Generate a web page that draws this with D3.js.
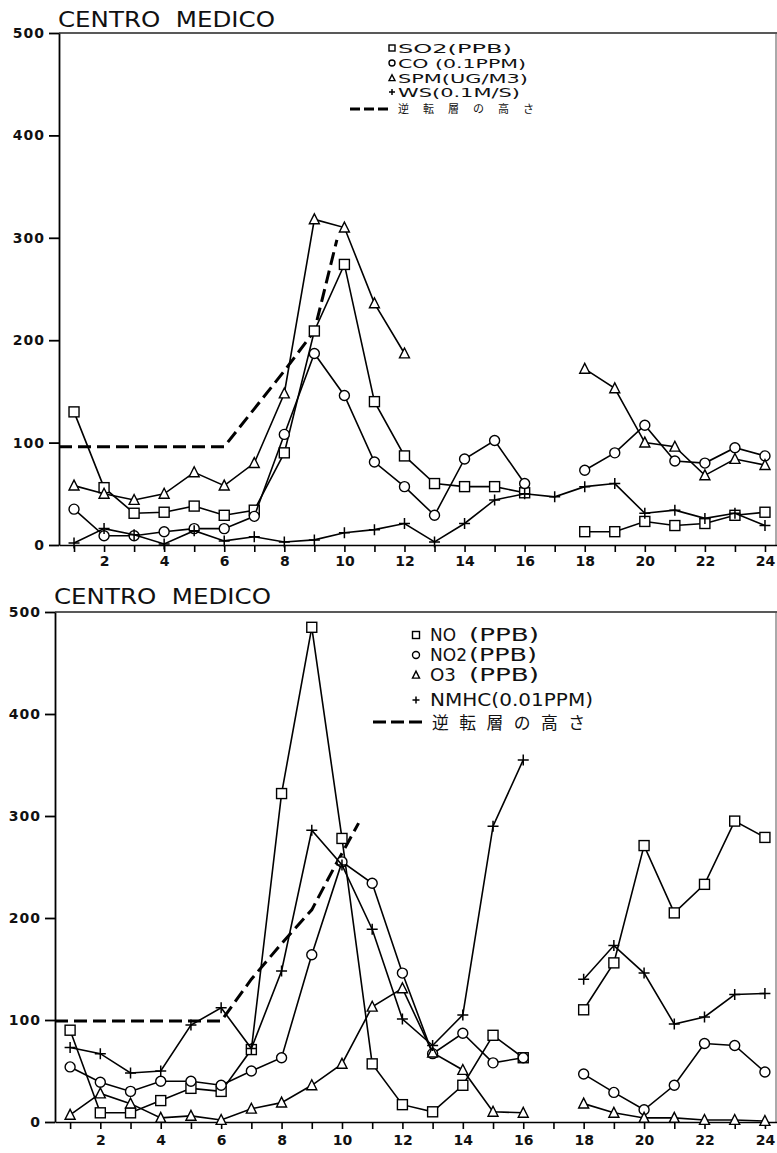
<!DOCTYPE html>
<html>

<head>
    <meta http-equiv="Content-Type" content="text/html;" charset="utf-8">
    <script type="text/javascript" src="https://cdn.jsdelivr.net/npm/d3@7/dist/d3.min.js"></script>
    <style>
        body { margin: 0; background: #fff; }
        .axis text { font-family: "DejaVu Sans", sans-serif; fill: #111; }
    </style>
</head>

<body>
    <div class="chart-div"></div>
    <script type="text/javascript">

        var width = 777;
        var height = 1153;

        //--------------------------------------------DATA

        var hours = [1, 2, 3, 4, 5, 6, 7, 8, 9, 10, 11, 12, 13, 14, 15, 16, 17, 18, 19, 20, 21, 22, 23, 24];
        var yTicks = [0, 100, 200, 300, 400, 500];
        var xLabels = [2, 4, 6, 8, 10, 12, 14, 16, 18, 20, 22, 24];
        var title = "CENTRO  MEDICO";

        // top panel
        var so2 = [130, 56, 31, 32, 38, 29, 34, 90, 209, 274, 140, 87, 60, 57, 57, 51, null, 13, 13, 23, 19, 21, 29, 32];
        var co = [35, 9, 9, 13, 16, 16, 28, 108, 187, 146, 81, 57, 29, 84, 102, 60, null, 73, 90, 117, 82, 80, 95, 87];
        var spm = [58, 50, 44, 50, 71, 58, 80, 148, 318, 310, 236, 187, null, null, null, null, null, 172, 153, 100, 96, 68, 84, 78];
        var ws = [2, 16, 10, 1, 14, 4, 8, 3, 5, 12, 15, 21, 3, 21, 44, 50, 47, 57, 60, 31, 34, 26, 31, 19];
        var invHoursTop = [0.5, 6, 7, 8, 9, 9.75];
        var invTop = [96, 96, 133, 170, 209, 298];

        // bottom panel
        var no = [90, 9, 9, 21, 33, 30, 71, 322, 485, 278, 57, 17, 10, 36, 85, 63, null, 110, 156, 271, 205, 233, 295, 279];
        var no2 = [54, 39, 30, 40, 40, 36, 50, 63, 164, 255, 234, 146, 67, 87, 58, 63, null, 47, 29, 12, 36, 77, 75, 49];
        var o3 = [7, 28, 18, 4, 6, 2, 13, 19, 36, 57, 113, 131, 68, 51, 10, 9, null, 18, 9, 4, 4, 2, 2, 1];
        var nmhc = [73, 67, 48, 50, 95, 112, 72, 148, 286, 252, 189, 101, 75, 105, 290, 355, null, 140, 173, 146, 96, 103, 125, 126];
        var invHoursBottom = [0.5, 6, 7, 8, 9, 9.75, 10.55];
        var invBottom = [99, 99, 140, 175, 208, 250, 293];

        var legendJa = "逆転層の高さ";

        //--------------------------------------------CONTAINERS

        var svg = d3.select("div.chart-div")
            .append("svg")
            .attr("width", width)
            .attr("height", height)
            .style("background", "#fff");

        //--------------------------------------------MARKERS

        function marker(g, type, cx, cy, s) {
            if (type == "square") {
                g.append("rect")
                    .attr("x", cx - s).attr("y", cy - s)
                    .attr("width", 2 * s).attr("height", 2 * s)
                    .attr("fill", "#fff").attr("stroke", "#000").attr("stroke-width", 1.4);
            } else if (type == "circle") {
                g.append("circle")
                    .attr("cx", cx).attr("cy", cy).attr("r", s)
                    .attr("fill", "#fff").attr("stroke", "#000").attr("stroke-width", 1.4);
            } else if (type == "triangle") {
                var h = s * 1.1;
                g.append("path")
                    .attr("d", "M" + cx + "," + (cy - h) + "L" + (cx + s) + "," + (cy + h * 0.8) +
                        "L" + (cx - s) + "," + (cy + h * 0.8) + "Z")
                    .attr("fill", "#fff").attr("stroke", "#000").attr("stroke-width", 1.4);
            } else {
                g.append("path")
                    .attr("d", "M" + (cx - s) + "," + cy + "H" + (cx + s) + "M" + cx + "," + (cy - s) + "V" + (cy + s))
                    .attr("fill", "none").attr("stroke", "#000").attr("stroke-width", 1.5);
            }
        }

        //--------------------------------------------PANEL

        function drawPanel(p) {
            var x = d3.scaleLinear().domain([0.5, 24.4]).range([p.left, 777]);
            var y = d3.scaleLinear().domain([0, 500]).range([p.bottom, p.top]);

            var g = svg.append("g");

            // frame top and right
            g.append("line")
                .attr("x1", x(0.5)).attr("x2", 777)
                .attr("y1", y(500)).attr("y2", y(500))
                .attr("stroke", "#222").attr("stroke-width", 1.3);
            g.append("line")
                .attr("x1", 776).attr("x2", 776)
                .attr("y1", y(500)).attr("y2", y(0))
                .attr("stroke", "#555").attr("stroke-width", 1);

            var yAxis = d3.axisLeft(y).tickValues(yTicks).tickSize(10).tickSizeOuter(0).tickPadding(4);
            var xAxis = d3.axisBottom(x).tickValues(hours).tickSize(7).tickSizeOuter(0).tickPadding(p.xPad)
                .tickFormat(function (d) { return xLabels.indexOf(d) >= 0 ? d : ""; });

            var ya = g.append("g")
                .attr("class", "axis")
                .attr("transform", "translate(" + x(0.5) + ",0)")
                .call(yAxis);
            ya.selectAll("path, line").attr("stroke", "#000").attr("stroke-width", 1.8);
            ya.selectAll("text")
                .attr("font-size", 14).attr("font-weight", "bold")
                .style("letter-spacing", "1px");

            var xa = g.append("g")
                .attr("class", "axis")
                .attr("transform", "translate(0," + y(0) + ")")
                .call(xAxis);
            xa.selectAll("path, line").attr("stroke", "#000").attr("stroke-width", 1.6);
            xa.selectAll("text")
                .attr("font-size", 14).attr("font-weight", 600);

            // title
            g.append("text")
                .attr("x", p.left - 1)
                .attr("y", p.titleY)
                .attr("font-family", "DejaVu Sans, sans-serif")
                .attr("font-size", 22)
                .attr("textLength", 217)
                .attr("lengthAdjust", "spacingAndGlyphs")
                .style("white-space", "pre")
                .style("fill", "#111")
                .text(title);

            // inversion height
            var inv = p.invHours.map(function (h, i) { return { h: h, v: p.inv[i] }; });
            g.append("path")
                .attr("d", d3.line().x(function (d) { return x(d.h); }).y(function (d) { return y(d.v); })(inv))
                .attr("fill", "none")
                .attr("stroke", "#000")
                .attr("stroke-width", 3)
                .style("stroke-dasharray", "13,6");

            // series
            p.series.forEach(function (s) {
                var pts = hours.map(function (h, i) { return { h: h, v: s.values[i] }; });
                var line = d3.line()
                    .defined(function (d) { return d.v != null; })
                    .x(function (d) { return x(d.h); })
                    .y(function (d) { return y(d.v); });
                g.append("path")
                    .attr("d", line(pts))
                    .attr("fill", "none")
                    .attr("stroke", "#000")
                    .attr("stroke-width", 1.6);
                s.g = g.append("g");
                s.pts = pts;
            });
            p.series.forEach(function (s) {
                s.pts.forEach(function (d) {
                    if (d.v != null) marker(s.g, s.type, x(d.h), y(d.v), s.type == "plus" ? 5.5 : 5);
                });
            });

            // legend
            var lg = g.append("g");
            p.series.forEach(function (s, i) {
                var cy = p.legRows[i];
                marker(lg, s.type, p.legMarkX, cy, p.legMarkS);
                lg.append("text")
                    .attr("x", p.legTextX)
                    .attr("y", cy + p.legFont * 0.36)
                    .attr("font-family", "DejaVu Sans, sans-serif")
                    .attr("font-size", p.legFont)
                    .attr("textLength", s.len)
                    .attr("lengthAdjust", "spacingAndGlyphs")
                    .style("fill", "#111")
                    .text(s.label);
                if (s.unit) {
                    lg.append("text")
                        .attr("x", p.legUnitX)
                        .attr("y", cy + p.legFont * 0.36)
                        .attr("font-family", "DejaVu Sans, sans-serif")
                        .attr("font-size", p.legFont)
                        .attr("textLength", s.unitLen)
                        .attr("lengthAdjust", "spacingAndGlyphs")
                        .style("fill", "#111")
                        .text(s.unit);
                }
            });
            var jy = p.legRows[4];
            lg.append("line")
                .attr("x1", p.legDash[0]).attr("x2", p.legDash[1])
                .attr("y1", jy).attr("y2", jy)
                .attr("stroke", "#000").attr("stroke-width", 3)
                .style("stroke-dasharray", p.legDashPat);
            lg.append("text")
                .attr("x", p.legJaX)
                .attr("y", jy + p.legJaFont * 0.4)
                .attr("font-family", "Noto Sans CJK JP, sans-serif")
                .attr("font-size", p.legJaFont)
                .attr("textLength", p.legJaLen)
                .attr("lengthAdjust", "spacing")
                .style("fill", "#111")
                .text(legendJa);
        }

        //+++++++++++++++++++++++++++++++ TOP ++++++++++++++++++++++++++++

        drawPanel({
            left: 59, top: 33, bottom: 545, titleY: 27, xPad: 4,
            invHours: invHoursTop, inv: invTop,
            series: [
                { values: so2, type: "square", label: "SO2(PPB)", len: 114 },
                { values: co, type: "circle", label: "CO (0.1PPM)", len: 128 },
                { values: spm, type: "triangle", label: "SPM(UG/M3)", len: 130 },
                { values: ws, type: "plus", label: "WS(0.1M/S)", len: 122 }
            ],
            legRows: [48, 63, 78, 92, 109],
            legMarkX: 392, legMarkS: 3, legTextX: 398, legFont: 12.8, legJaFont: 11,
            legDash: [350, 388], legDashPat: "10,4", legJaX: 398, legJaLen: 136
        });

        //+++++++++++++++++++++++++++++++ BOTTOM ++++++++++++++++++++++++++++

        drawPanel({
            left: 55, top: 612, bottom: 1122, titleY: 604, xPad: 6,
            invHours: invHoursBottom, inv: invBottom,
            series: [
                { values: no, type: "square", label: "NO", len: 26, unit: "(PPB)", unitLen: 70 },
                { values: no2, type: "circle", label: "NO2", len: 37, unit: "(PPB)", unitLen: 68 },
                { values: o3, type: "triangle", label: "O3", len: 26, unit: "(PPB)", unitLen: 70 },
                { values: nmhc, type: "plus", label: "NMHC(0.01PPM)", len: 163 }
            ],
            legRows: [635, 655, 675, 700, 722],
            legMarkX: 416, legMarkS: 3.5, legTextX: 430, legUnitX: 469, legFont: 16.8, legJaFont: 16.8,
            legDash: [373, 425], legDashPat: "13,5", legJaX: 432, legJaLen: 153
        });

    </script>

</body>

</html>
